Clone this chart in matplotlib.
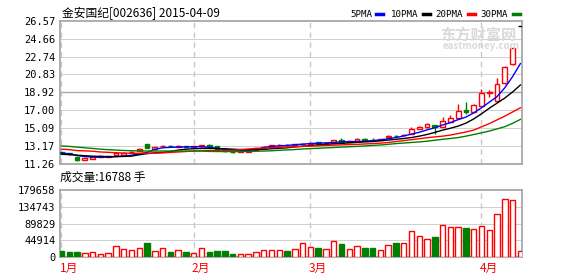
import matplotlib.pyplot as plt
from matplotlib.lines import Line2D
import matplotlib.transforms as mtransforms
import numpy as np

plt.rcParams['font.family'] = ['Noto Sans CJK SC', 'DejaVu Sans']

title = '金安国纪[002636] 2015-04-09'
vol_label = '成交量:16788 手'
price_ticks = [11.26, 13.17, 15.09, 17.00, 18.92, 20.83, 22.74, 24.66, 26.57]
vol_ticks = [0, 44914, 89829, 134743, 179658]
months = ['1月', '2月', '3月', '4月']
month_start = [0, 17, 32, 54]
ma_names = ['5PMA', '10PMA', '20PMA', '30PMA']

# daily candles, 2015-01-05 .. 2015-04-09
opens = [12.45, 12.38, 11.93, 11.68, 11.78, 12.00, 12.00, 12.18, 12.20, 12.48,
         12.62, 13.35, 12.80, 13.12, 13.16, 13.08, 13.12, 13.06, 13.14, 13.28,
         13.10, 12.80, 12.55, 12.50, 12.55, 12.72, 12.98, 13.05, 13.20, 13.26,
         13.24, 13.32, 13.40, 13.55, 13.38, 13.50, 13.79, 13.60, 13.70, 13.88,
         13.82, 13.80, 14.08, 14.24, 14.28, 14.40, 14.97, 15.22, 15.40, 15.20,
         15.75, 16.12, 16.99, 16.85, 17.47, 18.85, 18.01, 19.88, 21.92, 26.06]
closes = [12.35, 12.28, 11.64, 11.86, 11.93, 12.12, 12.05, 12.36, 12.43, 12.52,
          12.82, 12.92, 13.02, 13.16, 13.12, 13.12, 13.08, 13.10, 13.20, 13.02,
          12.82, 12.60, 12.50, 12.56, 12.78, 12.92, 13.04, 13.25, 13.26, 13.22,
          13.34, 13.36, 13.44, 13.35, 13.46, 13.79, 13.62, 13.65, 13.90, 13.84,
          13.78, 13.86, 14.18, 14.20, 14.34, 14.94, 15.22, 15.47, 15.22, 15.88,
          16.12, 16.93, 16.80, 17.50, 18.80, 18.95, 19.77, 21.60, 23.64, 26.06]
highs = [12.50, 12.42, 11.98, 11.90, 11.98, 12.18, 12.10, 12.40, 12.48, 12.62,
         12.88, 13.40, 13.08, 13.30, 13.22, 13.20, 13.18, 13.16, 13.30, 13.32,
         13.14, 12.84, 12.62, 12.62, 12.82, 12.96, 13.15, 13.30, 13.32, 13.36,
         13.38, 13.45, 13.56, 13.60, 13.52, 13.84, 14.00, 13.72, 13.95, 13.98,
         13.95, 13.92, 14.30, 14.35, 14.45, 15.15, 15.30, 15.65, 15.45, 16.23,
         16.50, 17.70, 17.84, 17.70, 19.25, 19.20, 20.40, 21.75, 23.70, 26.06]
lows = [12.30, 12.22, 11.57, 11.64, 11.74, 11.96, 11.95, 12.15, 12.16, 12.42,
        12.58, 12.88, 12.76, 13.05, 13.05, 13.02, 13.02, 13.00, 13.05, 12.98,
        12.78, 12.55, 12.38, 12.45, 12.50, 12.68, 12.90, 13.00, 13.15, 13.14,
        13.20, 13.25, 13.33, 13.30, 13.35, 13.46, 13.55, 13.55, 13.66, 13.75,
        13.70, 13.74, 14.00, 14.10, 14.20, 14.38, 14.95, 15.04, 14.43, 15.15,
        15.70, 16.05, 16.60, 16.80, 17.40, 18.40, 17.95, 19.80, 21.90, 26.06]
volume = [17800, 15100, 15100, 11600, 14200, 8900, 12500, 31100, 22200, 20500,
          25800, 37400, 17800, 24000, 15100, 20500, 15100, 11600, 24000, 15100,
          17800, 17800, 9800, 9800, 9800, 15100, 20500, 20500, 20500, 17800,
          23000, 38200, 28500, 25800, 22200, 43600, 36500, 22200, 30200, 25800,
          25800, 19600, 32900, 39100, 38200, 70300, 56900, 48900, 55100, 86300,
          80900, 80900, 79200, 75600, 83600, 73800, 115600, 155600, 153000, 16788]

# moving averages as drawn on the chart
ma5 = [12.40, 12.30, 12.12, 12.00, 11.95, 11.93, 11.95, 12.00, 12.06, 12.15,
       12.30, 12.45, 12.78, 12.95, 13.00, 13.02, 13.05, 13.07, 13.07, 13.00,
       12.90, 12.78, 12.72, 12.68, 12.66, 12.75, 12.98, 13.10, 13.15, 13.20,
       13.28, 13.34, 13.40, 13.44, 13.48, 13.53, 13.58, 13.62, 13.62, 13.66,
       13.72, 13.80, 13.92, 14.05, 14.22, 14.42, 14.62, 14.88, 15.10, 15.40,
       15.65, 15.98, 16.25, 16.70, 17.25, 17.85, 18.45, 19.40, 20.60, 22.00]
ma10 = [12.25, 12.22, 12.15, 12.10, 12.05, 12.02, 12.00, 12.00, 12.02, 12.05,
        12.20, 12.32, 12.40, 12.45, 12.55, 12.70, 12.80, 12.85, 12.88, 12.88,
        12.86, 12.84, 12.80, 12.76, 12.74, 12.74, 12.78, 12.85, 12.90, 12.95,
        13.05, 13.12, 13.18, 13.25, 13.32, 13.38, 13.42, 13.48, 13.53, 13.58,
        13.62, 13.70, 13.78, 13.86, 13.95, 14.05, 14.20, 14.38, 14.60, 14.85,
        15.05, 15.28, 15.60, 16.05, 16.60, 17.20, 17.75, 18.30, 18.95, 19.70]
ma20 = [12.80, 12.75, 12.65, 12.62, 12.58, 12.50, 12.46, 12.42, 12.38, 12.36,
        12.35, 12.36, 12.38, 12.40, 12.45, 12.50, 12.55, 12.60, 12.63, 12.65,
        12.66, 12.66, 12.68, 12.75, 12.82, 12.88, 12.92, 12.96, 13.00, 13.03,
        13.06, 13.10, 13.13, 13.16, 13.20, 13.23, 13.26, 13.29, 13.32, 13.36,
        13.40, 13.45, 13.52, 13.62, 13.72, 13.82, 13.92, 14.03, 14.12, 14.20,
        14.32, 14.48, 14.65, 14.85, 15.20, 15.55, 15.95, 16.35, 16.80, 17.25]
ma30 = [13.14, 13.10, 13.02, 12.95, 12.88, 12.80, 12.75, 12.70, 12.66, 12.63,
        12.62, 12.60, 12.60, 12.60, 12.60, 12.60, 12.60, 12.60, 12.60, 12.56,
        12.55, 12.55, 12.55, 12.55, 12.56, 12.58, 12.60, 12.63, 12.68, 12.72,
        12.76, 12.82, 12.86, 12.90, 12.94, 12.98, 13.02, 13.06, 13.10, 13.15,
        13.20, 13.25, 13.32, 13.40, 13.46, 13.52, 13.58, 13.66, 13.76, 13.86,
        13.95, 14.05, 14.20, 14.38, 14.55, 14.75, 14.98, 15.22, 15.58, 16.00]

RED = '#ff0000'
GREEN = '#008000'
GRID = '#cfcfcf'
FRAME = '#a8a8a8'
mono = 'DejaVu Sans Mono'

x = np.arange(len(opens))
o = np.array(opens); c = np.array(closes)
prev = np.concatenate([[o[0]], c[:-1]])
up = (c > o) | ((c == o) & (c >= prev))
cand_col = np.where(c > o, RED, np.where(c < o, GREEN, 'black'))
vol_col = np.where(up, RED, GREEN)

fig = plt.figure(figsize=(5.78, 2.76), dpi=100)
ax = fig.add_axes([0.103, 0.4076, 0.800, 0.516])
ax2 = fig.add_axes([0.103, 0.0678, 0.800, 0.2438])

# price panel
ax.vlines(x, lows, highs, colors=cand_col, lw=1, zorder=3)
ax.bar(x, np.abs(c - o), bottom=np.minimum(o, c), width=0.62,
       facecolor=np.where(c >= o, 'white', GREEN), edgecolor=cand_col, lw=1, zorder=4)
for vals, col in zip([ma5, ma10, ma20, ma30], ['#0000ff', 'black', RED, GREEN]):
    ax.plot(x, vals, color=col, lw=1, zorder=5)

ax.set_ylim(11.26, 26.57)
ax.set_yticks(price_ticks)
ax.set_yticklabels(['%.2f' % v for v in price_ticks], family=mono, fontsize=7.5)
for v in price_ticks[1:-1]:
    mid = v == 18.92
    ax.axhline(v, color='#a8a8a8' if mid else GRID, lw=1 if mid else 0.7, zorder=0)

# volume panel
ax2.bar(x, volume, width=0.7, facecolor=np.where(up, 'white', GREEN),
        edgecolor=vol_col, lw=1, zorder=3)
ax2.set_ylim(0, 179658)
ax2.set_yticks(vol_ticks)
ax2.set_yticklabels([str(v) for v in vol_ticks], family=mono, fontsize=7.5)
for v in vol_ticks[1:-1]:
    ax2.axhline(v, color=GRID, lw=0.7, zorder=0)

for a in (ax, ax2):
    a.set_xlim(-0.25, 59.2)
    a.set_xticks([])
    a.tick_params(axis='y', length=0, pad=3)
    for s in a.spines.values():
        s.set_color(FRAME)
        s.set_linewidth(1.3)
    for m in month_start:
        a.axvline(m, color='#c8c8c8', lw=1, ls=(0, (4, 3)), zorder=1)

trans = mtransforms.blended_transform_factory(ax2.transData, ax2.transAxes)
for m, lab in zip(month_start, months):
    ax2.text(m - 0.25, -0.07, lab, transform=trans, color=RED, fontsize=8.5,
             ha='left', va='top')

# texts
fig.text(0.107, 0.953, title, fontsize=8.5, va='center', ha='left')
fig.text(0.104, 0.357, vol_label, fontsize=8.5, va='center', ha='left')

# legend
leg_x = [350, 391, 435, 480]
dash_x = [376, 423, 468, 513]
for name, lx, dx, col in zip(ma_names, leg_x, dash_x, ['#0000ff', 'black', RED, GREEN]):
    fig.text(lx / 578, 0.949, name, family=mono, fontsize=6.6, va='center', ha='left')
    fig.add_artist(Line2D([dx / 578, (dx + 7) / 578], [0.951, 0.951], color=col, lw=2.5))

# watermark
fig.text(0.827, 0.875, '东方财富网', color='#dadada', fontsize=11, fontweight='bold',
         ha='center', va='center')
fig.text(0.833, 0.833, 'eastmoney.com', color='#dadada', fontsize=7, fontweight='bold',
         ha='center', va='center')

plt.savefig('out.png', dpi=100)
